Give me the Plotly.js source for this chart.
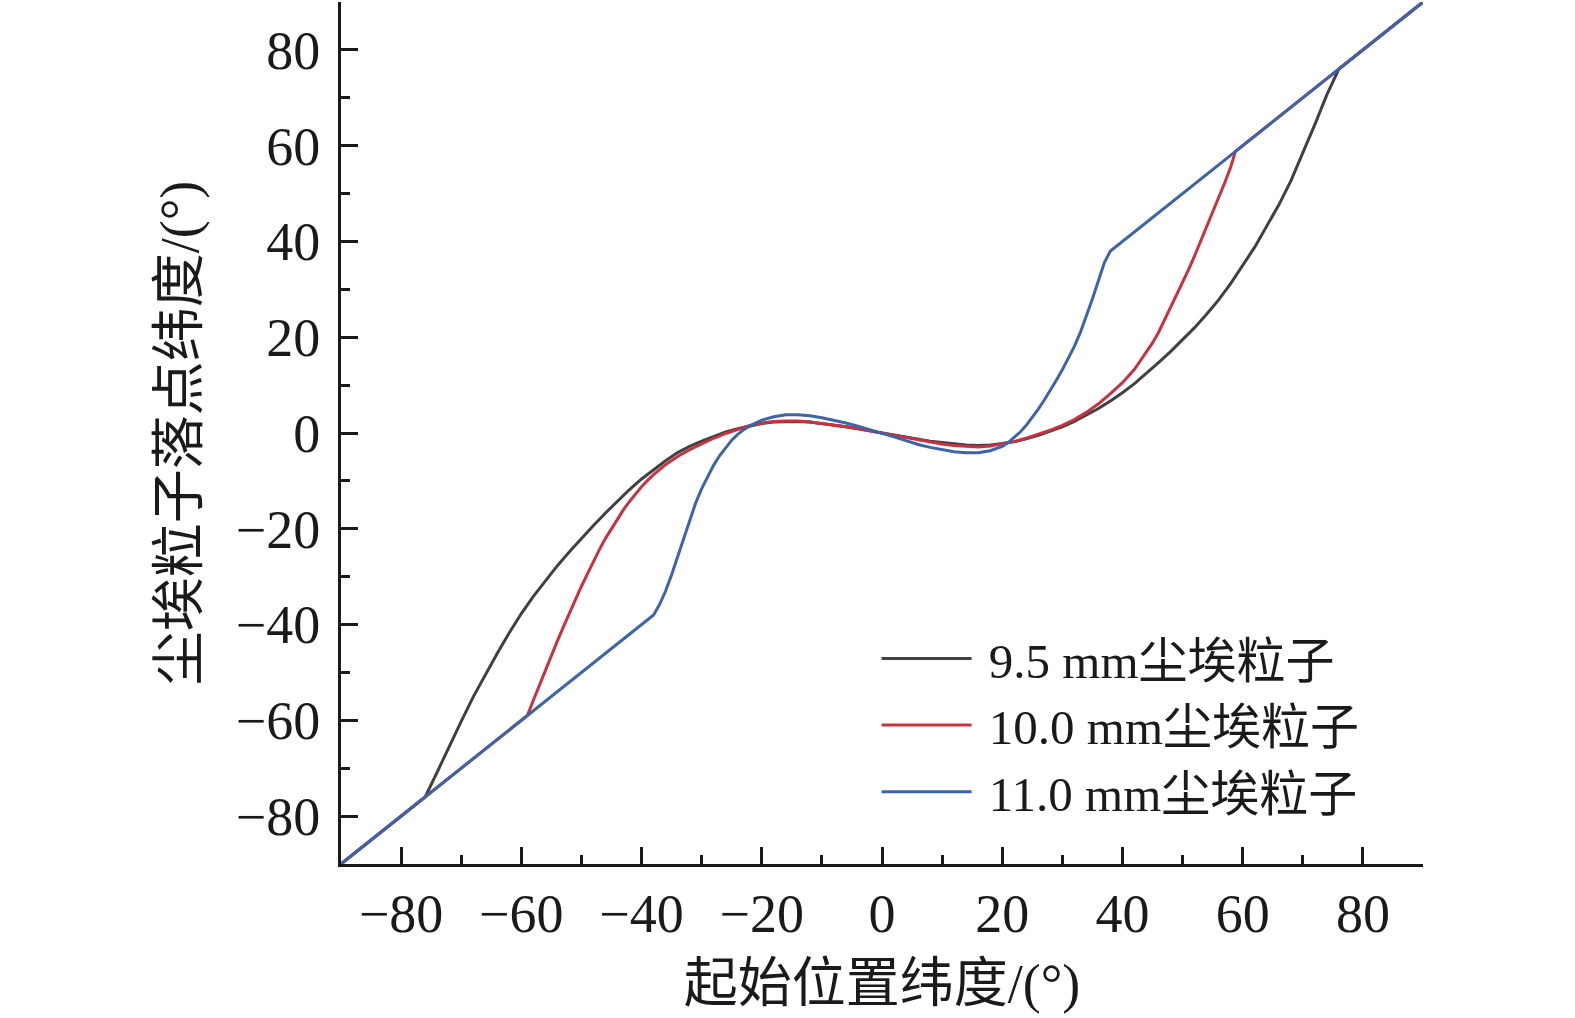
<!DOCTYPE html>
<html>
<head>
<meta charset="utf-8">
<script src="https://cdn.plot.ly/plotly-3.0.1.min.js"></script>
<style>
  html, body { margin: 0; padding: 0; background: #fff; }
  #chart { width: 1575px; height: 1018px; }
</style>
</head>
<body>
<div id="chart"></div>
<script>
// 9.5 mm particles
const xBlack = [-90, -76, -74, -72, -70, -68, -66, -64, -62, -60, -58, -56, -54, -52, -50, -48, -46, -44, -42, -40,
  -38, -36, -34, -32, -30, -28, -26, -24, -22, -20, -18, -16, -14, -12, -10, -8, -6, -4, -2, 0,
  2, 4, 6, 8, 10, 12, 14, 16, 18, 20, 22, 24, 26, 28, 30, 32, 34, 36, 38, 40,
  42, 44, 46, 48, 50, 52, 54, 56, 58, 60, 62, 64, 66, 68, 70, 72, 74, 76, 90];
const yBlack = [-90, -76, -70.8, -65.4, -60.2, -55.1, -50.4, -46, -41.7, -37.7, -34.1, -30.8, -27.7, -24.8, -22.0, -19.3, -16.7, -14.2, -11.8, -9.6,
  -7.6, -5.8, -4.1, -2.8, -1.7, -0.7, 0.2, 0.9, 1.5, 2.0, 2.3, 2.4, 2.4, 2.3, 2.0, 1.7, 1.3, 0.9, 0.45, 0,
  -0.45, -0.9, -1.3, -1.7, -2.0, -2.3, -2.5, -2.6, -2.5, -2.2, -1.8, -1.2, -0.5, 0.4, 1.3, 2.4, 3.7, 5.1, 6.7, 8.4,
  10.3, 12.4, 14.7, 17.0, 19.4, 22.0, 24.8, 27.8, 31.2, 35.0, 38.8, 43.2, 47.6, 52.6, 58.4, 64.4, 70.6, 76, 90];

// 10.0 mm particles
const xRed = [-90, -59, -58, -57, -56, -55, -54, -53, -52, -51, -50, -49, -48, -47, -46, -45, -44, -43, -42, -41, -40, -39,
  -38, -36, -34, -32, -30, -28, -26, -24, -22, -20, -18, -16, -14, -12, -10, -8, -6, -4, -2, 0,
  2, 4, 6, 8, 10, 12, 14, 16, 18, 20, 22, 24, 26, 28, 30, 32, 34, 36, 38, 40, 42, 44, 45, 46,
  47, 48, 49, 50, 51, 52, 53, 54, 55, 56, 57, 58, 58.8, 90];
const yRed = [-90, -59, -55.8, -52.6, -49.5, -46.4, -43.4, -40.5, -37.6, -34.8, -32.0, -29.4, -26.8, -24.3, -22.0, -19.9, -17.9, -16.0, -14.3, -12.7, -11.2, -9.9,
  -8.7, -6.6, -4.9, -3.5, -2.3, -1.1, -0.1, 0.8, 1.6, 2.1, 2.4, 2.5, 2.5, 2.3, 2.0, 1.7, 1.3, 0.9, 0.45, 0,
  -0.5, -1.0, -1.5, -1.9, -2.3, -2.6, -2.8, -2.9, -2.7, -2.3, -1.8, -1.1, -0.3, 0.6, 1.6, 2.8, 4.3, 6.1, 8.2, 10.5, 13.3, 16.8, 18.8, 21.0,
  23.6, 26.2, 28.8, 31.4, 34.1, 37.0, 40.0, 43.0, 46.0, 49.0, 52.2, 55.5, 58.8, 90];

// 11.0 mm particles
const xBlue = [-90, -38, -37, -36, -35, -34, -33, -32, -31, -30, -29, -28, -27, -26, -25, -24, -23, -22, -20, -18,
  -16, -14, -12, -10, -8, -6, -4, -2, 0, 2, 4, 6, 8, 10, 12, 14, 16, 18, 20, 21,
  22, 23, 24, 25, 26, 27, 28, 29, 30, 31, 32, 33, 34, 35, 36, 37, 38, 90];
const yBlue = [-90, -38, -35.8, -33.0, -29.6, -25.8, -21.8, -18.0, -14.6, -11.6, -9.0, -6.7, -4.7, -3.0, -1.5, -0.3, 0.7, 1.5, 2.7, 3.4,
  3.8, 3.8, 3.6, 3.2, 2.7, 2.1, 1.4, 0.7, 0, -0.8, -1.6, -2.4, -3.0, -3.5, -3.9, -4.1, -4.1, -3.7, -2.8, -2.0,
  -1.0, 0.2, 1.6, 3.2, 5.0, 6.9, 8.9, 11.0, 13.2, 15.5, 18.1, 21.0, 24.4, 28.0, 31.8, 35.6, 38, 90];

// leading no-break space keeps the gap between legend line and text
const seriesNames = ['\u00a09.5 mm尘埃粒子', '\u00a010.0 mm尘埃粒子', '\u00a011.0 mm尘埃粒子'];
const seriesColors = ['#404040', '#c8323e', '#3d63a9'];

const FONT = "'Liberation Serif', 'Noto Sans CJK SC', serif";
const INK = '#1a1a1a';

const traces = [[xBlack, yBlack], [xRed, yRed], [xBlue, yBlue]].map(function (s, i) {
  return {
    x: s[0],
    y: s[1],
    type: 'scatter',
    mode: 'lines',
    name: seriesNames[i],
    line: { color: seriesColors[i], width: 3 }
  };
});

const axisCommon = {
  range: [-90, 90],
  tick0: 0,
  dtick: 20,
  ticks: 'inside',
  ticklen: 17,
  tickwidth: 3,
  tickcolor: INK,
  showline: true,
  linewidth: 3,
  linecolor: INK,
  showgrid: false,
  zeroline: false,
  tickfont: { family: FONT, size: 54, color: INK },
  minor: { dtick: 10, ticks: 'inside', ticklen: 9, tickwidth: 3, tickcolor: INK, showgrid: false }
};

const layout = {
  width: 1575,
  height: 1018,
  margin: { l: 341, r: 152, t: 2, b: 154 },
  paper_bgcolor: '#fff',
  plot_bgcolor: '#fff',
  showlegend: true,
  font: { family: FONT, color: INK },
  xaxis: Object.assign({}, axisCommon, {
    title: { text: '起始位置纬度/(°)', font: { family: FONT, size: 54, color: INK }, standoff: 22 }
  }),
  yaxis: Object.assign({}, axisCommon, {
    ticklabelstandoff: 7,
    title: { text: '尘埃粒子落点纬度/(°)', font: { family: FONT, size: 54, color: INK }, standoff: 20 }
  }),
  legend: {
    x: 0.495,
    y: 0.283,
    xanchor: 'left',
    yanchor: 'top',
    bgcolor: 'rgba(0,0,0,0)',
    itemwidth: 90,
    font: { family: FONT, size: 49, color: INK }
  }
};

Plotly.newPlot('chart', traces, layout, { displayModeBar: false, staticPlot: true });
</script>
</body>
</html>
